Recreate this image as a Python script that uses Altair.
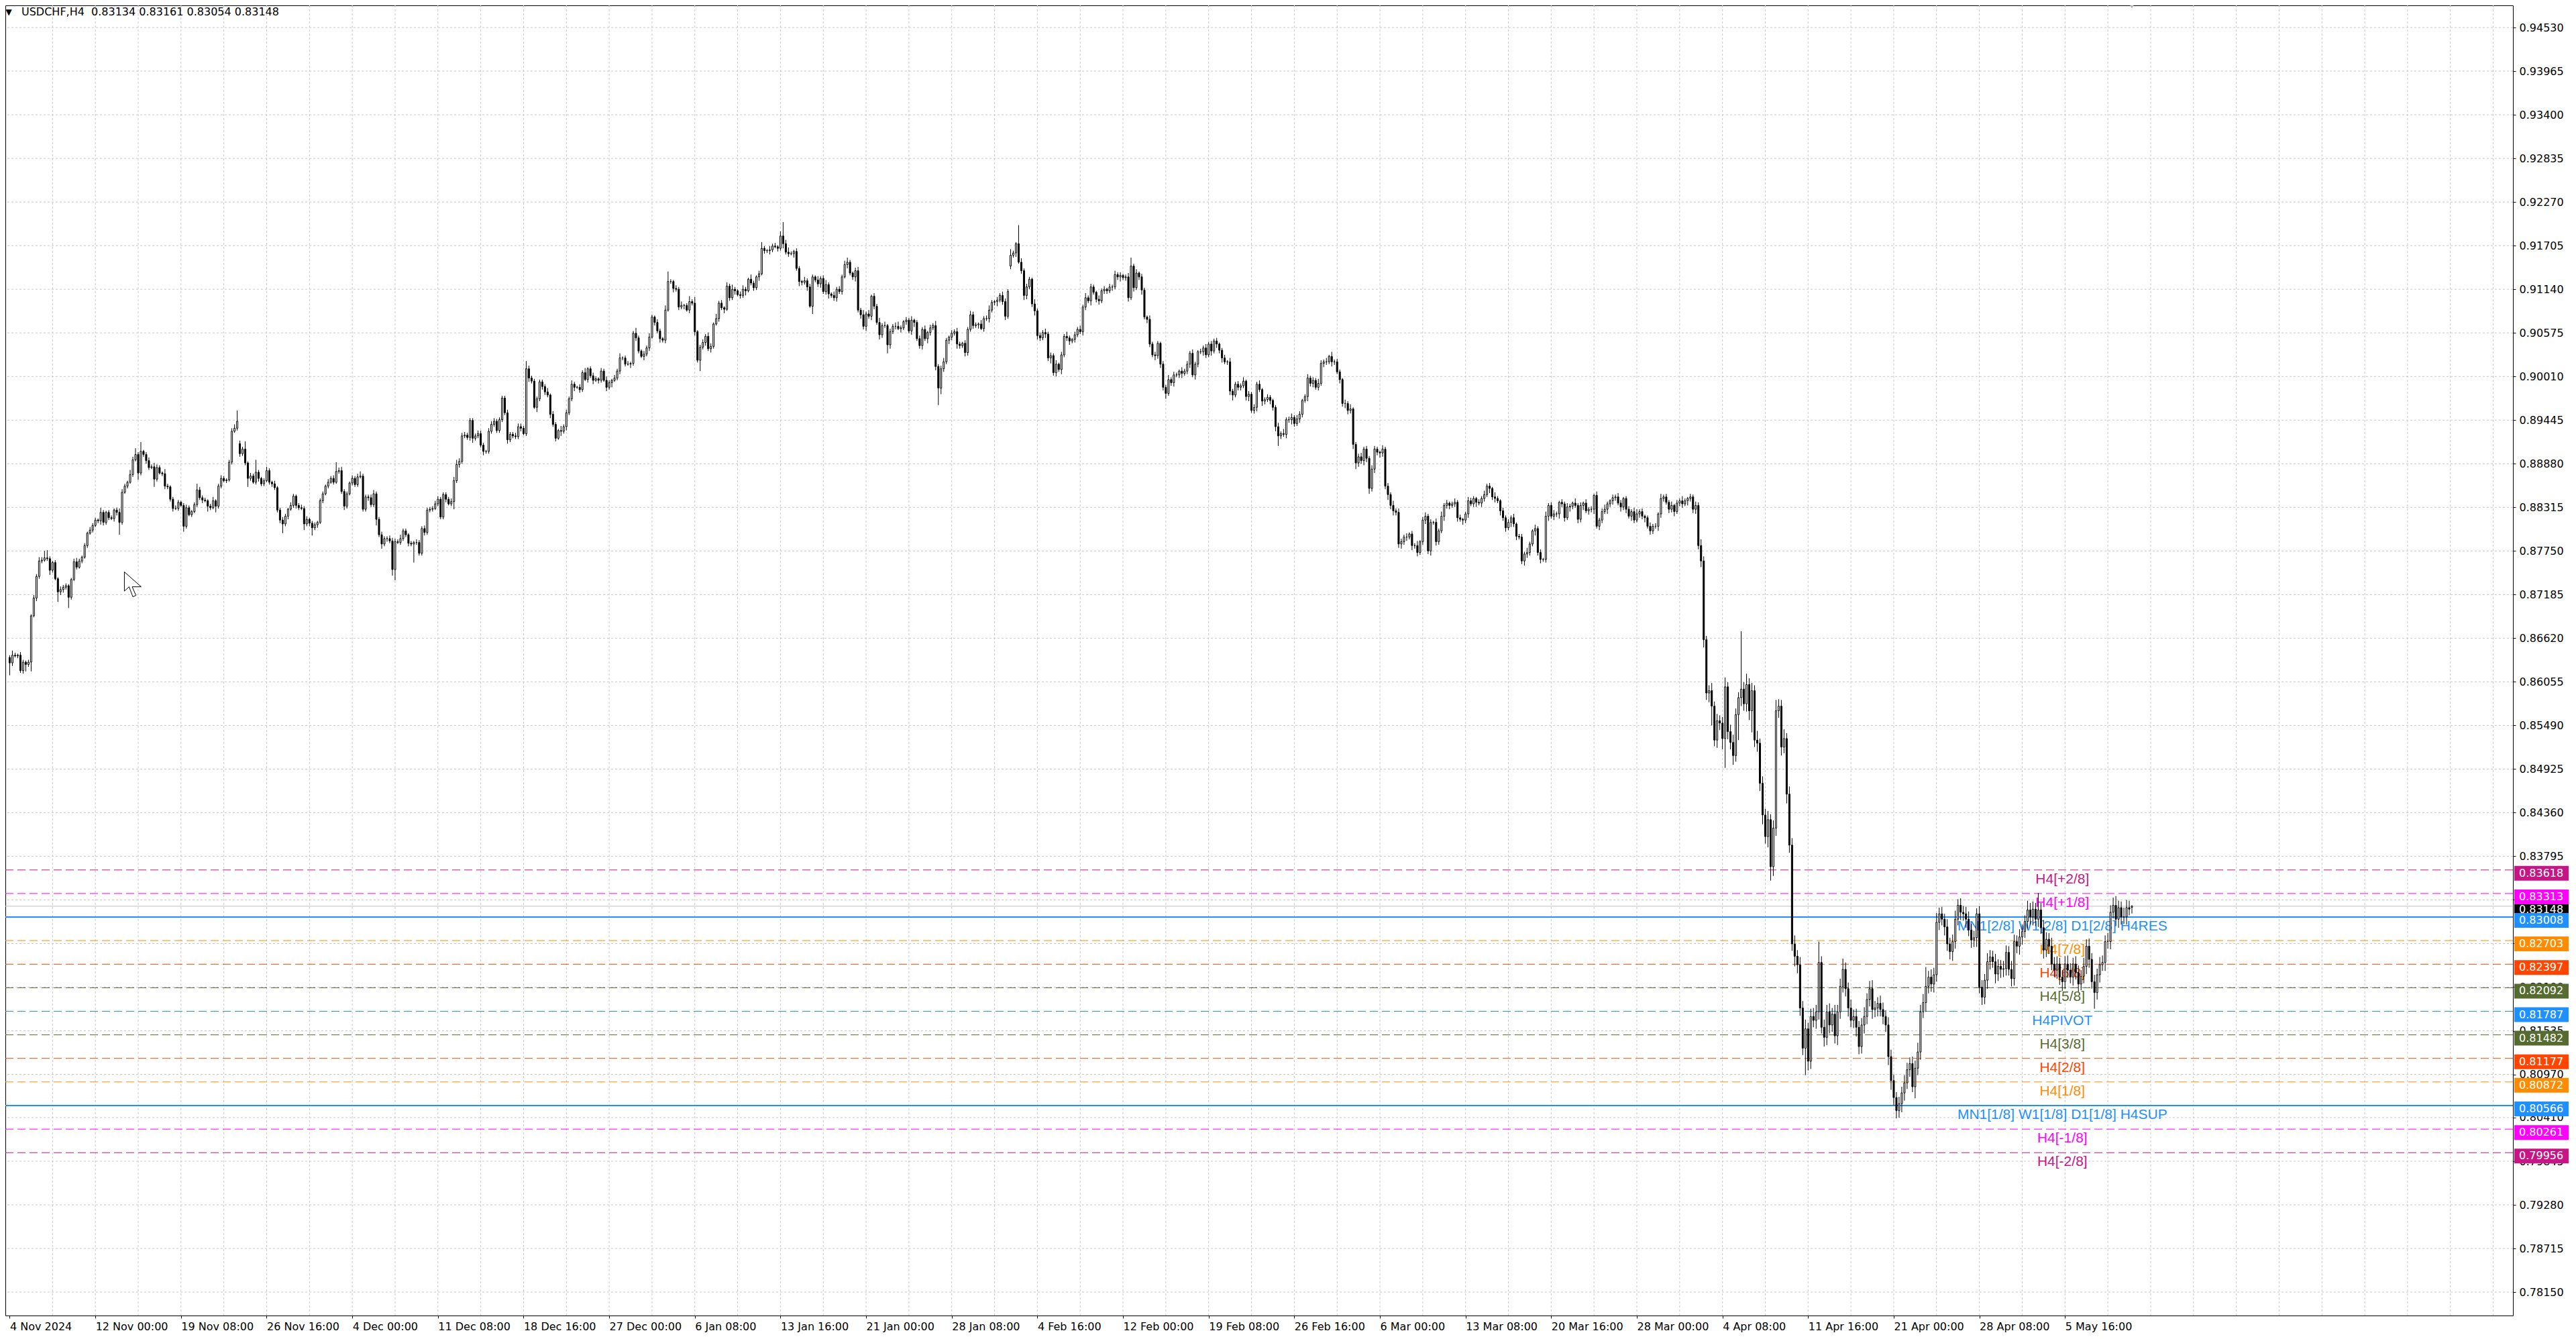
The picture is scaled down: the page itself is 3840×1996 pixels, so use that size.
import json
import altair as alt
import pandas as pd

# ---------------- data (prices in pips, 0.0001) ----------------
first_open = 8637
closes = [
8630,8640,8639,8640,8620,8631,8628,8631,8691,8714,
8742,8762,8763,8766,8765,8750,8760,8739,8722,8725,
8728,8730,8715,8738,8761,8754,8762,8767,8782,8798,
8802,8808,8815,8814,8825,8812,8825,8818,8817,8828,
8825,8812,8851,8859,8864,8874,8893,8900,8876,8904,
8900,8892,8883,8884,8868,8883,8876,8875,8859,8858,
8842,8830,8830,8838,8834,8807,8831,8822,8826,8835,
8854,8844,8841,8840,8833,8831,8840,8833,8859,8869,
8866,8867,8890,8930,8934,8943,8901,8907,8889,8869,
8872,8864,8877,8869,8862,8866,8879,8864,8862,8857,
8828,8815,8810,8820,8829,8834,8846,8834,8831,8830,
8810,8816,8811,8805,8809,8812,8840,8849,8859,8864,
8869,8864,8878,8879,8852,8833,8849,8863,8869,
8861,8871,8872,8829,8845,8844,8835,8849,8816,8796,
8784,8791,8791,8788,8751,8787,8786,8791,8801,8796,
8785,8784,8786,8786,8772,8804,8799,8828,8829,8830,
8836,8842,8819,8848,8842,8836,8839,8866,8887,8891,
8924,8925,8922,8944,8921,8924,8927,8912,8904,8904,
8930,8939,8943,8931,8945,8973,8954,8919,8926,8924,
8923,8936,8934,8927,9011,8999,8995,8961,8972,8994,
8988,8981,8977,8952,8939,8921,8931,8930,8936,8954,
8972,8991,8987,8987,8984,9006,8997,9011,9002,8996,
8998,8996,9008,8996,8987,8993,8996,8999,9008,9025,
9025,9017,9017,9018,9057,9051,9034,9027,9030,9038,
9052,9078,9071,9060,9050,9048,9087,9124,9124,9115,
9114,9091,9093,9093,9087,9098,9096,9059,9022,9039,
9045,9053,9037,9040,9069,9076,9096,9090,9088,9118,
9103,9114,9112,9107,9106,9114,9112,9127,9122,9116,
9130,9134,9167,9164,9164,9165,9170,9169,9167,9183,
9173,9162,9160,9160,9163,9141,9124,9123,9125,9117,
9092,9130,9126,9121,9128,9111,9120,9108,9106,9103,
9114,9111,9130,9146,9149,9135,9130,9138,9087,9081,
9066,9082,9079,9105,9092,9071,9055,9067,9067,9042,
9059,9066,9066,9063,9064,9072,9074,9060,9074,9071,
9050,9041,9062,9050,9058,9064,9067,9014,8986,9011,
9020,9048,9052,9057,9059,9043,9041,9044,9032,9062,
9081,9067,9068,9069,9063,9076,9076,9087,9097,9098,
9100,9106,9098,9079,9111,9158,9161,9173,9149,9138,
9106,9117,9127,9095,9086,9054,9051,9058,9056,9025,
9028,9006,9017,9010,9029,9053,9051,9047,9049,9055,
9062,9059,9091,9103,9099,9117,9110,9101,9099,9112,
9114,9112,9117,9117,9133,9130,9132,9129,9130,9103,
9144,9116,9135,9130,9113,9078,9075,9043,9029,9028,
9044,9017,8987,8979,8997,8993,9003,9003,9008,9005,
9008,9017,9031,9003,9017,9033,9033,9038,9029,9043,
9034,9047,9043,9035,9025,9020,9020,8982,8977,8991,
8987,8989,8995,8975,8978,8957,8961,8991,8984,8969,
8971,8974,8970,8961,8936,8924,8927,8926,8945,8945,
8948,8940,8946,8952,8970,8975,8999,8992,8996,8987,
8992,9018,9020,9020,9027,9020,9020,9007,8997,8966,
8966,8957,8959,8913,8889,8897,8892,8907,8895,8856,
8881,8907,8903,8902,8907,8859,8848,8834,8827,8825,
8784,8787,8793,8793,8797,8782,8782,8773,8787,8815,
8820,8775,8812,8812,8787,8801,8820,8834,8837,8834,
8836,8838,8818,8816,8815,8823,8840,8836,8843,8838,
8837,8843,8848,8859,8856,8845,8843,8840,8827,8818,
8805,8812,8818,8810,8794,8793,8762,8771,8773,8784,
8801,8804,8773,8764,8764,8820,8834,8820,8823,8823,
8838,8836,8818,8832,8833,8837,8834,8816,8834,8837,
8827,8829,8829,8847,8807,8815,8826,8829,8836,8840,
8844,8845,8837,8832,8843,8829,8820,8826,8815,8823,
8826,8820,8818,8807,8801,8807,8807,8823,8843,8845,
8838,8829,8834,8826,8837,8840,8836,8840,8843,8845,
8829,8834,8782,8762,8660,8591,
8594,8574,8530,8555,8552,8532,8599,8541,8527,8510,
8563,8585,8596,8577,8602,8568,8594,8530,8526,8474,
8433,8405,8427,8366,8416,8568,8574,8521,8532,8460,
8394,8266,8250,8239,8183,8131,8156,8114,8172,8167,
8178,8242,8158,8145,8178,8161,8175,8147,8178,8211,
8233,8208,8183,8167,8172,8158,8133,8161,8172,8194,
8208,8181,8183,8189,8181,8172,8161,8120,8089,8067,
8050,8059,8073,8086,8103,8111,8081,
8105,8126,8178,8190,8211,8223,8214,8226,8294,8305,
8298,8288,8266,8256,8269,8298,8316,8307,8305,8298,
8284,8271,8274,8305,8210,8197,8219,8243,8249,8243,
8227,8237,8233,8234,8255,8233,8221,8269,8263,8275,
8282,8295,8310,8301,8311,8298,8310,8287,8258,8272,
8263,8240,8232,8240,8223,8217,8240,8232,8223,8240,
8229,8214,8224,8237,8263,8246,8217,8203,8226,8239,
8242,8269,8269,8307,8316,8298,8313,8301,8301,8313,
8311,8314.8,
]
up_wick = [
3,6,3,2,4,3,2,3,2,4, 3,5,4,9,10,3,2,3,2,4, 3,3,2,2,4,5,3,2,3,2, 4,3,3,2,6,3,2,3,3,2,
3,5,4,3,2,6,4,8,3,12, 2,3,4,3,5,4,3,2,6,3, 2,3,4,3,2,3,4,3,2,3, 8,4,3,3,2,3,5,2,3,4,
3,2,3,4,5,14,4,3,10,2, 4,3,16,3,2,3,5,3,2,4, 2,3,4,3,2,4,3,2,3,4, 3,4,2,3,3,2,3,3,2,4,
3,4,12,4,5,3,3,2,4,3, 4,6,3,3,3,4,5,3,3,4, 3,3,4,4,4,3,5,3,3,2, 3,2,4,3,3,4,3,3,3,4,
4,3,3,3,3,4,5,6,4,4, 4,3,3,3,3,4,4,3,2,4, 4,4,3,3,3,3,4,3,3,4, 4,4,3,10,4,3,3,3,3,3,
3,5,2,4,3,2,6,3,4,3, 5,3,2,4,3,6,2,3,4,3, 2,4,3,5,3,2,4,3,6,2, 3,4,2,3,7,3,2,4,3,5,
3,2,4,3,2,6,13,3,2,4, 3,5,2,3,7,3,8,2,3,4, 3,5,4,2,6,3,4,2,5,3, 6,3,2,4,5,3,2,6,3,2,
4,8,3,2,5,3,4,2,6,18, 5,6,3,2,4,3,2,5,3,4, 3,2,5,3,4,6,3,2,5,3, 4,3,5,6,3,2,4,5,3,6,
3,5,2,4,3,6,3,5,2,4, 3,5,6,3,2,4,3,5,2,3, 4,3,5,2,4,3,6,3,4,5, 3,2,4,3,5,3,2,4,3,5,
4,3,2,5,3,4,6,3,2,4, 3,5,4,3,8,3,2,24,5,3, 4,3,2,6,3,4,3,5,3,4, 3,5,2,4,3,6,3,2,4,3,
5,3,6,3,4,3,2,5,3,4, 2,4,3,5,3,4,2,3,5,11, 3,5,2,4,3,2,5,3,4,3, 2,4,3,6,3,4,3,2,5,3,
4,3,5,3,2,4,3,5,3,4, 3,4,2,3,4,2,5,3,3,4, 3,5,2,4,3,4,3,5,2,3, 4,3,2,3,5,3,6,3,4,5,
3,5,4,2,3,5,3,4,3,6, 4,3,5,2,6,3,4,3,2,5, 3,6,2,3,4,5,3,4,3,5, 4,3,2,5,3,4,3,6,3,5,
4,3,5,2,4,3,6,2,4,5, 3,4,2,5,3,6,3,4,2,3, 5,3,4,2,3,5,4,3,2,4, 3,5,3,4,2,6,3,2,4,3,
4,3,5,2,3,4,3,6,3,2, 5,3,4,2,6,3,4,5,3,2, 4,3,5,3,2,6,3,4,2,5, 3,4,2,5,3,4,6,3,2,4,
3,5,4,2,3,4,3,5,6,3, 4,2,3,5,3,4,2,6,3,4, 3,5,2,4,3,6,3,2,4,3, 5,4,8,6,5,7,10,6,9,7,
8,12,6,9,10,8,7,75,9,14, 8,10,7,12,6,9,8,11,7,10, 14,9,8,12,7,10,9,11,8,10, 9,12,8,10,11,9,27,8,10,9,
11,8,12,9,10,14,9,8,11,9, 10,8,9,12,8,10,11,9,8,10, 9,8,10,9,8,7,9,8,10,9, 8,9,10,12,9,11,25,8,10,9,
12,8,9,7,10,8,9,11,8,9, 8,9,10,8,9,7,10,9,8,11, 9,8,10,9,8,10,9,8,11,9, 8,10,9,8,12,9,10,8,22,9,
10,9,8,11,9,10,8,9,10,11, 9,8,10,9,8,11,9,10,8,9, 8,10,9,8,11,9,10,12,9,8, 12,10,9,1.3,
]
low_wick = [
16,4,2,3,3,4,9,3,12,2, 4,3,3,2,3,6,3,2,13,4, 4,3,14,3,2,3,2,3,2,3, 2,3,2,3,5,4,3,3,2,4,
4,16,3,2,3,2,3,2,9,3, 3,4,3,2,10,3,2,3,4,3, 3,4,2,3,2,7,3,2,3,2, 3,3,4,2,7,3,2,8,3,3,
2,3,2,3,2,3,4,3,3,11, 3,2,3,4,3,3,2,3,4,3, 3,4,12,3,4,2,3,4,3,2, 8,3,4,10,3,4,2,3,2,3,
2,3,2,3,3,5,3,2,3,3, 3,2,3,3,4,3,3,8,3,6, 3,4,3,8,14,2,3,3,3,4, 3,24,3,3,3,4,3,3,3,2,
3,3,3,4,2,3,10,3,4,3, 3,3,4,6,3,3,3,5,3,3, 3,3,3,3,3,3,5,3,3,3, 3,4,2,3,5,3,2,6,3,4,
4,3,5,3,4,2,6,3,5,3, 3,5,2,4,3,2,4,3,5,2, 4,3,2,5,3,6,2,3,4,3, 3,2,5,3,4,3,2,5,3,4,
2,4,3,5,3,4,2,3,5,3, 4,3,5,2,4,3,5,3,14,3, 4,3,5,3,2,4,3,5,2,4, 3,5,2,4,3,6,2,3,4,3,
5,2,4,3,5,3,2,4,3,6, 3,4,2,5,3,6,4,3,5,2, 10,3,4,5,3,4,6,3,4,5, 3,4,2,5,3,4,6,3,5,4,
6,3,5,4,3,6,4,3,11,5, 3,4,2,5,3,4,3,5,6,3, 4,5,3,6,4,3,5,22,8,4, 3,5,4,3,6,4,3,5,4,3,
4,3,5,2,4,3,5,3,4,6, 3,4,5,3,4,3,5,2,4,6, 5,3,4,6,5,4,3,5,4,7, 4,5,3,6,3,4,5,3,4,3,
3,5,4,3,6,3,4,5,3,4, 4,3,5,3,4,6,3,4,5,3, 5,3,4,6,3,5,4,3,6,4, 5,4,7,3,4,5,3,4,6,3,
4,5,3,6,4,3,5,4,3,6, 3,5,4,6,3,4,5,7,3,4, 4,3,5,6,3,4,5,3,6,4, 3,5,4,6,13,4,3,5,4,6,
4,3,5,4,3,6,4,5,3,4, 3,5,4,3,6,4,3,5,4,6, 5,4,6,8,5,4,6,5,7,4, 5,4,6,5,4,7,5,6,4,5,
6,4,5,3,6,4,5,3,4,5, 4,6,3,5,4,3,6,4,5,3, 4,5,3,6,4,5,3,4,6,3, 5,4,3,6,4,5,3,6,4,5,
3,6,4,5,3,4,6,5,4,3, 6,4,5,3,4,6,3,5,4,6, 4,5,3,6,4,3,5,4,6,3, 5,4,6,3,5,4,3,6,4,5,
4,3,6,4,5,3,6,4,3,5, 4,6,3,5,4,3,6,5,4,3, 5,4,6,3,4,5,3,6,4,5, 6,5,8,10,9,12,25,8,10,9,
14,38,10,9,12,8,33,11,9,10, 12,28,9,11,10,12,9,14,18,12, 10,9,11,8,12,10,9,13,11,10, 9,35,12,10,9,11,10,8,12,10,
11,9,10,12,9,8,10,11,9,10, 12,10,9,11,10,9,12,10,11,9, 10,9,11,12,10,10,9,11,10,8, 9,7,15,9,10,8,12,9,10,11,
9,10,8,11,9,10,12,9,8,10, 9,11,8,10,9,12,8,10,9,11, 10,8,12,9,11,10,9,8,10,9, 9,11,10,8,9,10,11,9,10,8,
11,9,10,8,9,11,10,12,9,10, 8,11,9,10,8,9,10,11,9,21, 9,10,8,11,9,10,8,9,11,10, 9,10,8,8,
]
gap_opens = {86: 8914, 374: 9144, 793: 8313.4}

x_label_bars = [0, 32, 64, 96, 128, 160, 192, 224, 256, 288, 320, 352, 384,
                416, 448, 480, 512, 544, 576, 608, 640, 672, 704, 736, 768]
x_labels = ["4 Nov 2024", "12 Nov 00:00", "19 Nov 08:00", "26 Nov 16:00", "4 Dec 00:00",
            "11 Dec 08:00", "18 Dec 16:00", "27 Dec 00:00", "6 Jan 08:00", "13 Jan 16:00",
            "21 Jan 00:00", "28 Jan 08:00", "4 Feb 16:00", "12 Feb 00:00", "19 Feb 08:00",
            "26 Feb 16:00", "6 Mar 00:00", "13 Mar 08:00", "20 Mar 16:00", "28 Mar 00:00",
            "4 Apr 08:00", "11 Apr 16:00", "21 Apr 00:00", "28 Apr 08:00", "5 May 16:00"]
y_ticks = [0.94530, 0.93965, 0.93400, 0.92835, 0.92270, 0.91705, 0.91140, 0.90575,
           0.90010, 0.89445, 0.88880, 0.88315, 0.87750, 0.87185, 0.86620, 0.86055,
           0.85490, 0.84925, 0.84360, 0.83795, 0.83230, 0.82665, 0.82100, 0.81535,
           0.80970, 0.80410, 0.79845, 0.79280, 0.78715, 0.78150]

level_prices = [0.83618, 0.83313, 0.83008, 0.82703, 0.82397, 0.82092, 0.81787,
                0.81482, 0.81177, 0.80872, 0.80566, 0.80261, 0.79956]
level_labels = ["H4[+2/8]", "H4[+1/8]", "MN1[2/8] W1[2/8] D1[2/8] H4RES", "H4[7/8]",
                "H4[6/8]", "H4[5/8]", "H4PIVOT", "H4[3/8]", "H4[2/8]", "H4[1/8]",
                "MN1[1/8] W1[1/8] D1[1/8] H4SUP", "H4[-1/8]", "H4[-2/8]"]
level_colors = ["#C71585", "#FF00FF", "#1E90FF", "#FF8C00", "#FF4500", "#556B2F",
                "#1E90FF", "#556B2F", "#FF4500", "#FF8C00", "#1E90FF", "#FF00FF", "#C71585"]
level_solid = [False, False, True, False, False, False, False, False, False, False,
               True, False, False]
label_bar = 767
bid_price = 0.83148
last_bar = 793
title_text = "USDCHF,H4\u00a0 0.83134 0.83161 0.83054 0.83148"

# ---------------- tables ----------------
n = len(closes)
rows = []
prev = first_open
for i in range(n):
    o = gap_opens.get(i, prev)
    c = closes[i]
    uw = up_wick[i] if i < len(up_wick) else 3
    lw = low_wick[i] if i < len(low_wick) else 3
    rows.append({
        "i": i,
        "o": o / 10000.0,
        "c": c / 10000.0,
        "hi": (max(o, c) + uw) / 10000.0,
        "lo": (min(o, c) - lw) / 10000.0,
        "dir": "up" if c > o else "down",
    })
    prev = c
candles = pd.DataFrame(rows)

levels = pd.DataFrame({
    "price": level_prices, "label": level_labels, "color": level_colors,
    "solid": level_solid, "bar": [label_bar] * len(level_prices),
})
PX = 1.0 / 11508.0          # one pixel in price units
BOX_SHIFT = 5               # boxes sit a few px below their line
def box_table(prices, colors):
    t = pd.DataFrame({"price": prices, "color": colors})
    t["txt"] = t["price"].map(lambda p: f"{p:.5f}")
    t["top"] = t["price"] + (11 - BOX_SHIFT) * PX
    t["bot"] = t["price"] - (11 + BOX_SHIFT) * PX
    t["mid"] = t["price"] - BOX_SHIFT * PX
    return t
lvl_boxes = box_table(level_prices, level_colors)
bid_boxes = box_table([bid_price], ["#000000"])

W, H = 3738, 1953
xs = alt.Scale(domain=[-0.375, 934.125], nice=False, zero=False)
ys = alt.Scale(domain=[0.778464, 0.948172], nice=False, zero=False)

label_expr = f"{json.dumps(x_labels)}[indexof({json.dumps(x_label_bars)}, datum.value)]"

grid_col = "#C8C8C8"
hgrid = alt.Chart(pd.DataFrame({"p": y_ticks})).mark_rule(
    color=grid_col, strokeDash=[3, 3], strokeWidth=1
).encode(
    y=alt.Y("p:Q", scale=ys, axis=alt.Axis(
        orient="right", values=y_ticks, format=".5f", title=None, grid=False,
        domain=False, tickColor="black", tickSize=4, labelPadding=5,
        labelFont="DejaVu Sans", labelFontSize=16, labelColor="black",
        labelFlush=False, labelOverlap=False, labelBound=False, zindex=0))
)
vgrid = alt.Chart(pd.DataFrame({"g": list(range(16, 929, 16))})).mark_rule(
    color=grid_col, strokeDash=[3, 3], strokeWidth=1
).encode(
    x=alt.X("g:Q", scale=xs, axis=alt.Axis(
        orient="bottom", values=x_label_bars, labelExpr=label_expr, title=None,
        grid=False, domain=False, tickColor="black", tickSize=4, labelPadding=4,
        labelAlign="left", labelAngle=0, labelFont="DejaVu Sans", labelFontSize=16,
        labelColor="black", labelFlush=False, labelOverlap=False, labelBound=False,
        zindex=0))
)

dashed = alt.Chart(levels).transform_filter("!datum.solid").mark_rule(
    strokeWidth=1, strokeDash=[12, 6]
).encode(y=alt.Y("price:Q", scale=ys), color=alt.Color("color:N", scale=None))
solid = alt.Chart(levels).transform_filter("datum.solid").mark_rule(
    strokeWidth=2
).encode(y=alt.Y("price:Q", scale=ys), color=alt.Color("color:N", scale=None))
bid = alt.Chart(pd.DataFrame({"p": [bid_price]})).mark_rule(
    color="#C0C0C0", strokeWidth=1
).encode(y=alt.Y("p:Q", scale=ys))

ltext = alt.Chart(levels).mark_text(
    font="Liberation Sans", fontSize=21, align="center", baseline="top", dy=3
).encode(
    x=alt.X("bar:Q", scale=xs), y=alt.Y("price:Q", scale=ys),
    color=alt.Color("color:N", scale=None), text="label:N"
)

wicks = alt.Chart(candles).mark_rule(color="black", strokeWidth=1).encode(
    x=alt.X("i:Q", scale=xs), y=alt.Y("lo:Q", scale=ys), y2="hi:Q"
)
bodies = alt.Chart(candles).mark_bar(width=2, stroke="black", strokeWidth=1).encode(
    x=alt.X("i:Q", scale=xs), y=alt.Y("o:Q", scale=ys), y2="c:Q",
    fill=alt.Fill("dir:N", scale=alt.Scale(domain=["up", "down"], range=["white", "black"]),
                  legend=None)
)

def box_layers(tbl):
    r = alt.Chart(tbl).mark_rect().encode(
        x=alt.value(W + 2), x2=alt.value(W + 83),
        y=alt.Y("top:Q", scale=ys), y2="bot:Q",
        fill=alt.Fill("color:N", scale=None)
    )
    t = alt.Chart(tbl).mark_text(
        align="left", baseline="middle", font="DejaVu Sans", fontSize=16, color="white"
    ).encode(x=alt.value(W + 9), y=alt.Y("mid:Q", scale=ys), text="txt:N")
    return [r, t]

shift_mark = alt.Chart(pd.DataFrame({"b": [last_bar]})).mark_point(
    shape="triangle-down", filled=True, color="#B0B0B0", size=70, opacity=1
).encode(x=alt.X("b:Q", scale=xs), y=alt.value(1))

cursor = alt.Chart(pd.DataFrame({"k": ["cursor"]})).mark_point(
    shape="M-0.68,-1 L-0.68,0.55 L-0.3,0.2 L0.0,1.0 L0.25,0.9 L-0.05,0.2 L0.67,0.2 Z",
    filled=True, fill="white", stroke="black", strokeWidth=1, size=1369, opacity=1
).encode(x=alt.value(190), y=alt.value(863))

tri = alt.Chart(pd.DataFrame({"t": ["\u25bc"]})).mark_text(
    align="center", baseline="middle", font="DejaVu Sans", fontSize=12, color="black"
).encode(x=alt.value(5), y=alt.value(10), text="t:N")
title = alt.Chart(pd.DataFrame({"t": [title_text]})).mark_text(
    align="left", baseline="middle", font="DejaVu Sans", fontSize=16, color="black"
).encode(x=alt.value(24), y=alt.value(10), text="t:N")

chart = alt.layer(
    hgrid, vgrid, dashed, solid, bid, ltext, wicks, bodies,
    *box_layers(bid_boxes), *box_layers(lvl_boxes),
    shift_mark, cursor, tri, title
).properties(
    width=W, height=H,
    padding={"left": 0, "top": 0, "right": 86, "bottom": 27},
    autosize=alt.AutoSizeParams(type="none"),
    background="white",
).configure_view(stroke="black", strokeWidth=1, fill="white")

chart.save("out.html", embed_options={"renderer": "svg", "actions": False})
